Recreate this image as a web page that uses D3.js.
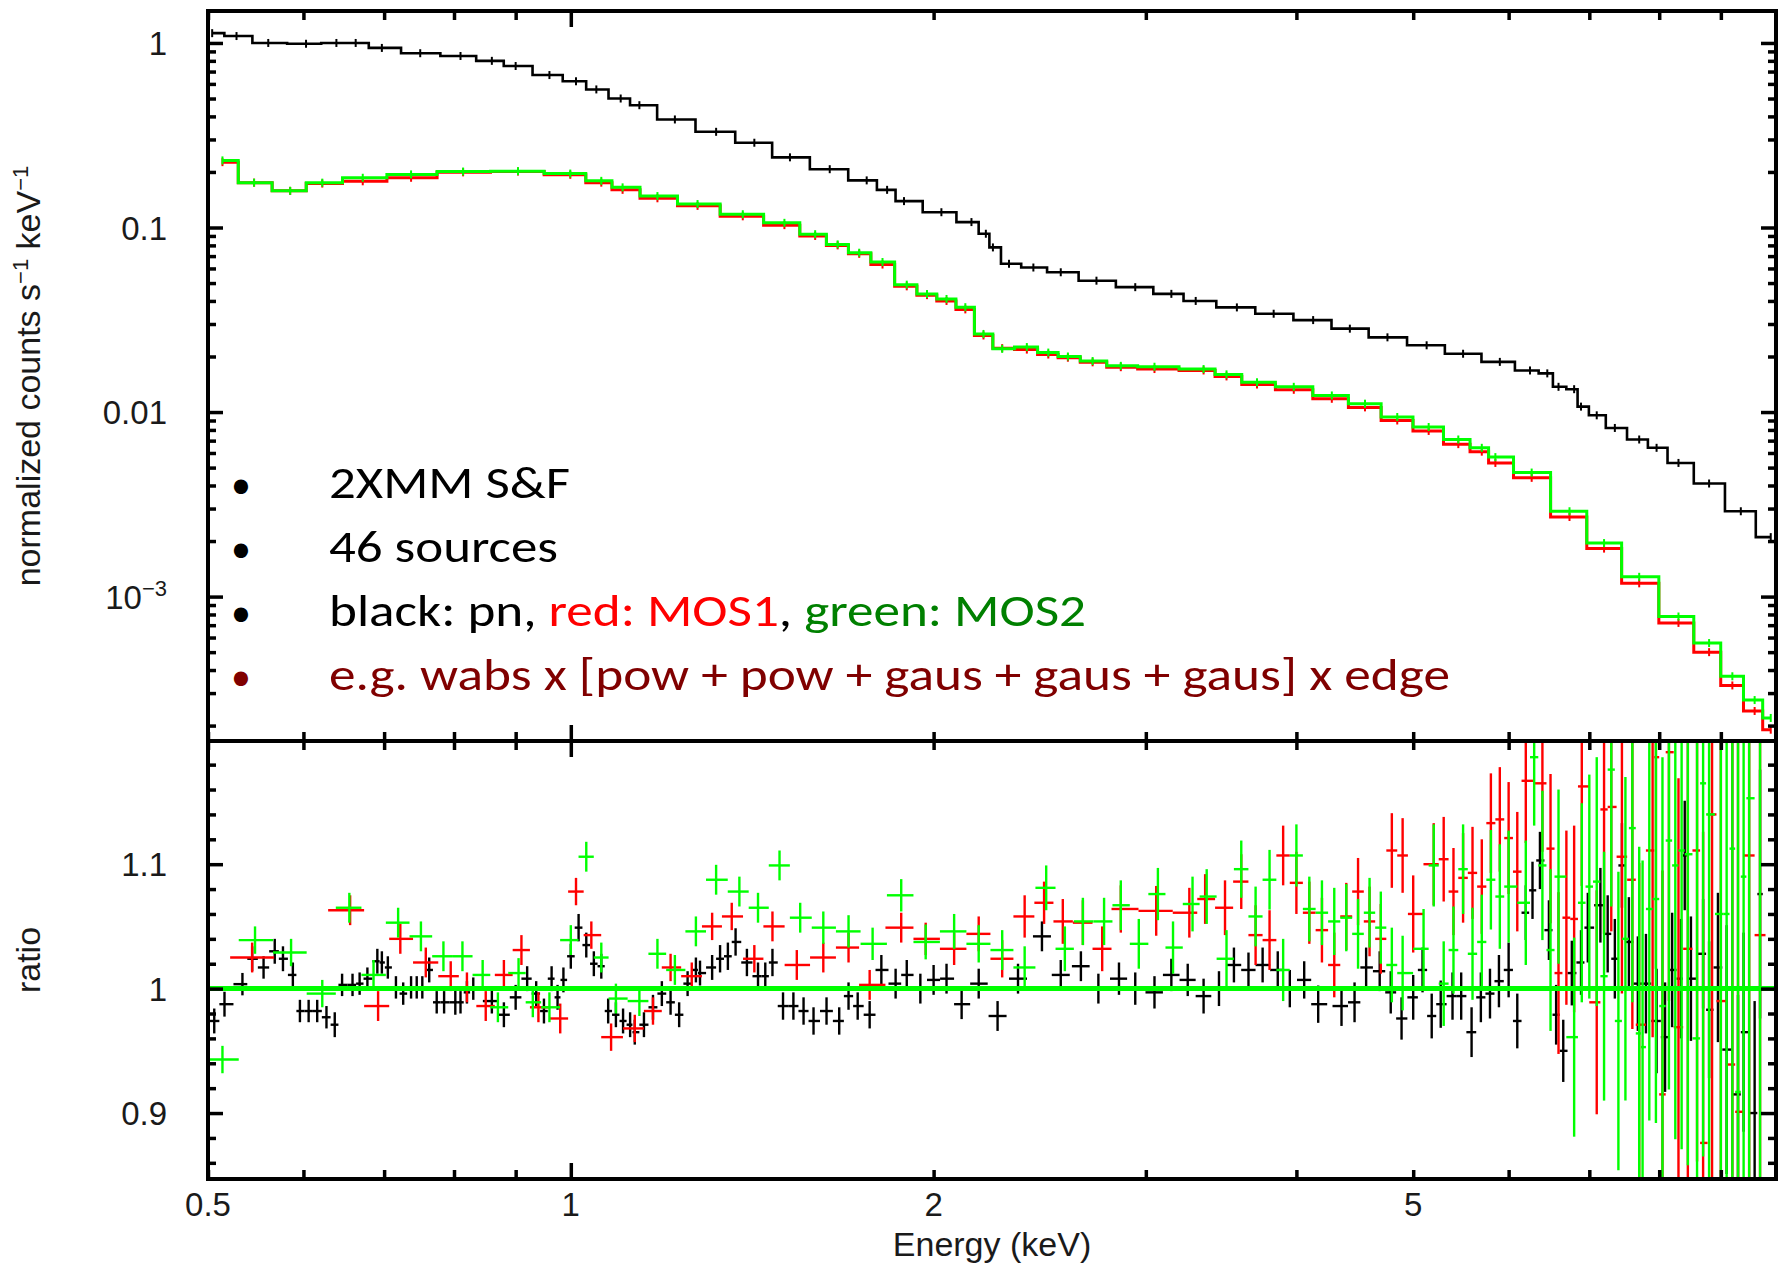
<!DOCTYPE html>
<html>
<head>
<meta charset="utf-8">
<script src="https://cdn.jsdelivr.net/npm/d3@7"></script>
<style>
  body { margin: 0; background: #fff; }
  svg { display: block; }
</style>
</head>
<body>
<svg id="chart"></svg>
<script>
// ---- data ----
// upper panel: normalized counts (model/data step), energies in keV
const pnEnergy = [0.504,0.528,0.561,0.603,0.639,0.663,0.697,0.75,0.81,0.86,
  0.90,0.96,1.01,1.05,1.10,1.14,1.22,1.32,1.42,1.52,
  1.64,1.76,1.83,1.89,2.03,2.15,2.21,2.24,2.31,2.42,
  2.55,2.73,2.94,3.15,3.3,3.57,3.83,4.13,4.43,4.76,
  5.13,5.5,5.9,6.25,6.46,6.6,6.8,6.89,7.1,7.35,
  7.7,7.96,8.3,8.8,9.35,9.9];
const pnCounts = [1.13,1.09,1.0,0.99,1.0,1.0,0.94,0.88,0.85,0.80,
  0.75,0.67,0.62,0.56,0.50,0.46,0.385,0.33,0.288,0.24,
  0.207,0.18,0.16,0.139,0.121,0.107,0.0925,0.078,0.0636,0.0607,
  0.0572,0.0515,0.0475,0.0437,0.0400,0.0369,0.0341,0.0315,0.0283,0.0254,
  0.0230,0.0207,0.0187,0.0168,0.0162,0.0137,0.0133,0.0107,0.0096,0.0082,
  0.0071,0.0064,0.0053,0.0041,0.0029,0.0021];

const mosEnergy = [0.514,0.546,0.585,0.622,0.672,0.737,0.814,0.904,0.999,1.06,
  1.104,1.18,1.274,1.389,1.504,1.595,1.665,1.735,1.814,1.9,
  1.975,2.05,2.125,2.2,2.28,2.39,2.49,2.585,2.71,2.86,
  3.05,3.35,3.5,3.71,3.98,4.28,4.56,4.85,5.15,5.45,
  5.7,5.85,6.27,6.74,7.2,7.7,8.3,8.8,9.2,9.6,9.9];
const mos1Counts = [0.226,0.175,0.158,0.173,0.178,0.186,0.199,0.201,0.193,0.175,
  0.160,0.144,0.131,0.115,0.103,0.090,0.080,0.072,0.063,0.048,
  0.0430,0.040,0.036,0.026,0.0222,0.0218,0.0205,0.0197,0.0186,0.0175,
  0.0171,0.0168,0.0156,0.0141,0.0132,0.0118,0.0106,0.0090,0.0079,0.0067,
  0.0061,0.0053,0.0044,0.0027,0.00182,0.00118,0.00072,0.00050,0.00033,0.00024,0.00019];
const mos2Counts = [0.231,0.175,0.158,0.175,0.186,0.194,0.201,0.202,0.196,0.179,
  0.165,0.148,0.134,0.118,0.106,0.092,0.081,0.073,0.065,0.049,
  0.0436,0.041,0.037,0.0265,0.022,0.0225,0.021,0.020,0.0189,0.0178,
  0.0176,0.0171,0.0160,0.0145,0.0137,0.0123,0.0111,0.0094,0.0083,0.0071,
  0.0064,0.0057,0.0047,0.0029,0.00195,0.00128,0.00078,0.00056,0.00037,0.000275,0.00022];

// lower panel: data/model ratio with 1-sigma errors
const pnRatioEnergy = [0.506,0.516,0.534,0.544,0.556,0.568,0.577,0.588,0.596,0.606,
  0.616,0.627,0.637,0.646,0.659,0.668,0.678,0.691,0.697,0.705,
  0.716,0.726,0.737,0.745,0.753,0.763,0.774,0.785,0.802,0.81,
  0.82,0.83,0.86,0.88,0.90,0.92,0.936,0.95,0.964,0.975,
  0.986,1.0,1.015,1.03,1.045,1.06,1.074,1.09,1.105,1.12,
  1.13,1.15,1.17,1.19,1.21,1.23,1.25,1.27,1.28,1.31,
  1.33,1.35,1.37,1.40,1.43,1.45,1.47,1.50,1.53,1.56,
  1.59,1.63,1.67,1.70,1.73,1.77,1.81,1.86,1.90,1.95,
  2.00,2.05,2.11,2.18,2.26,2.35,2.46,2.55,2.65,2.74,
  2.85,2.94,3.05,3.15,3.25,3.35,3.45,3.55,3.65,3.75,
  3.86,3.95,4.06,4.17,4.36,4.47,4.57,4.69,4.79,4.89,
  5.00,5.09,5.18,5.27,5.39,5.48,5.59,5.69,5.79,5.89,
  6.00,6.10,6.20,6.28,6.37,6.48,6.57,6.66,6.77,6.89,
  6.98,7.15,7.25,7.35,7.45,7.55,7.68,7.80,7.96,8.09,
  8.20,8.34,8.40,8.50,8.70,8.80,8.95,9.10,9.30,9.40,
  9.60,9.70];
const pnRatio = [0.974,0.9875,1.0036,1.024,1.017,1.030,1.024,1.011,0.982,0.982,
  0.982,0.977,0.971,1.003,1.003,1.004,1.008,1.022,1.021,1.017,
  1.001,0.996,1.001,1.001,1.001,1.015,0.989,0.989,0.989,0.989,
  0.997,1.0,0.990,0.979,0.993,1.008,0.996,0.982,1.008,0.993,
  1.007,1.026,1.049,1.035,1.02,1.018,0.982,0.979,0.974,0.971,
  0.965,0.971,0.985,0.996,0.989,0.979,1.004,1.015,1.0125,1.017,
  1.024,1.026,1.0375,1.021,1.010,1.010,1.021,0.986,0.986,0.982,
  0.974,0.982,0.974,0.994,0.986,0.979,1.015,1.004,1.011,1.0,
  1.007,1.008,0.9875,1.004,0.978,1.008,1.042,1.011,1.018,1.0,
  1.008,1.0,0.997,1.011,1.007,0.994,1.0,1.019,1.015,1.019,
  1.015,1.0,1.007,0.9875,0.986,0.989,1.017,1.014,0.997,0.976,
  0.993,1.015,0.978,0.9875,0.994,0.994,0.965,0.993,0.996,1.006,
  1.015,0.974,1.061,1.079,1.103,1.047,0.979,0.95,1.0125,1.021,
  1.049,1.067,1.044,1.024,1.099,1.0375,1.004,1.004,0.974,0.961,
  1.015,1.008,1.107,1.008,1.028,0.983,1.017,0.951,0.915,0.965,
  0.9,1.076];
const pnRatioErr = [.010,.010,.009,.010,.009,.010,.010,.010,.009,.009,
  .009,.009,.010,.009,.009,.009,.009,.010,.009,.009,
  .009,.009,.009,.009,.009,.010,.009,.009,.010,.009,
  .009,.009,.010,.010,.010,.010,.010,.010,.010,.010,
  .010,.010,.011,.010,.010,.010,.010,.010,.010,.010,
  .010,.010,.010,.010,.010,.010,.010,.010,.010,.010,
  .011,.011,.011,.011,.011,.011,.011,.011,.011,.011,
  .011,.011,.011,.011,.011,.011,.012,.012,.012,.012,
  .012,.012,.012,.012,.012,.012,.012,.012,.012,.012,
  .013,.013,.013,.013,.013,.014,.014,.014,.014,.014,
  .015,.015,.015,.015,.016,.016,.016,.016,.017,.017,
  .018,.018,.018,.019,.019,.019,.020,.020,.020,.021,
  .022,.022,.022,.023,.023,.024,.024,.025,.026,.026,
  .028,.030,.031,.032,.034,.036,.038,.040,.042,.044,
  .046,.048,.044,.050,.044,.055,.060,.100,.080,.080,
  .090,.100];

const mos1RatioEnergy = [0.544,0.656,0.692,0.722,0.758,0.795,0.82,0.85,0.88,0.91,
  0.94,0.98,1.01,1.04,1.08,1.13,1.17,1.21,1.26,1.31,
  1.36,1.42,1.47,1.54,1.62,1.70,1.77,1.88,1.97,2.08,
  2.18,2.28,2.38,2.47,2.56,2.66,2.76,2.86,3.06,3.26,
  3.36,3.49,3.6,3.7,3.8,3.9,4.0,4.1,4.2,4.3,
  4.4,4.5,4.6,4.7,4.8,4.9,5.0,5.2,5.3,5.4,
  5.5,5.6,5.7,5.8,5.9,6.0,6.1,6.2,6.4,6.5,
  6.6,6.7,6.8,6.9,7.1,7.2,7.3,7.45,7.6,7.7,
  7.9,7.95,8.05,8.15,8.3,8.45,8.6,8.7,8.85,9.0,
  9.2,9.3,9.5,9.7];
const mos1Ratio = [1.025,1.063,0.986,1.040,1.021,1.010,1.001,0.986,1.011,1.031,
  0.985,0.976,1.078,1.043,0.961,0.968,0.982,1.017,1.010,1.050,
  1.058,1.024,1.050,1.019,1.025,1.033,1.003,1.049,1.040,1.032,
  1.044,1.024,1.058,1.069,1.054,1.053,1.032,1.064,1.0625,1.061,
  1.072,1.065,1.086,1.043,1.039,1.107,1.085,1.061,1.047,1.019,
  1.058,1.078,1.054,1.040,1.111,1.107,1.060,1.100,1.104,1.078,
  1.089,1.093,1.082,1.133,1.136,1.121,1.094,1.167,1.165,1.1125,
  1.0125,1.057,1.056,1.1625,0.989,1.144,1.146,1.106,1.0875,0.971,
  1.111,1.186,0.915,1.19,0.969,1.032,1.111,0.876,1.140,0.99,
  0.939,0.901,1.107,1.043];
const mos1RatioErr = [.012,.012,.012,.012,.012,.012,.012,.012,.012,.012,
  .012,.012,.011,.011,.011,.011,.011,.011,.011,.011,
  .011,.011,.012,.012,.012,.012,.012,.012,.013,.013,
  .014,.015,.017,.017,.018,.018,.018,.019,.020,.020,
  .020,.022,.022,.024,.024,.024,.025,.025,.026,.026,
  .027,.027,.028,.028,.030,.030,.031,.033,.034,.035,
  .036,.037,.038,.040,.042,.045,.048,.050,.055,.060,
  .065,.070,.075,.080,.090,.100,.100,.110,.120,.130,
  .150,.170,.180,.200,.200,.220,.250,.250,.300,.300,
  .300,.300,.350,.400];

const mos2RatioEnergy = [0.514,0.547,0.586,0.622,0.655,0.686,0.719,0.751,0.784,0.813,
  0.845,0.87,0.905,0.93,0.96,1.0,1.03,1.06,1.09,1.14,
  1.18,1.22,1.27,1.32,1.38,1.43,1.49,1.55,1.62,1.70,
  1.78,1.88,1.97,2.08,2.18,2.28,2.38,2.48,2.57,2.66,
  2.77,2.86,2.96,3.07,3.16,3.28,3.37,3.5,3.6,3.7,
  3.8,3.9,4.0,4.1,4.2,4.3,4.4,4.5,4.6,4.7,
  4.8,4.9,5.1,5.2,5.3,5.4,5.5,5.6,5.7,5.8,
  5.9,6.0,6.2,6.3,6.4,6.5,6.6,6.8,6.9,7.0,
  7.1,7.2,7.3,7.4,7.5,7.6,7.7,7.75,7.85,7.95,
  8.05,8.15,8.25,8.35,8.45,8.6,8.7,8.8,9.0,9.1,
  9.2,9.3,9.4,9.5,9.7];
const mos2Ratio = [0.943,1.039,1.029,0.996,1.065,1.011,1.053,1.042,1.026,1.026,
  1.011,0.985,1.0125,0.989,0.985,1.039,1.106,1.025,0.992,0.990,
  1.028,1.015,1.046,1.0875,1.078,1.065,1.099,1.057,1.049,1.046,
  1.036,1.075,1.0375,1.046,1.036,1.031,1.017,1.081,1.032,1.054,
  1.054,1.067,1.036,1.076,1.033,1.068,1.074,1.024,1.096,1.058,
  1.0875,1.015,1.107,1.064,1.061,1.054,1.057,1.044,1.061,1.049,
  1.019,1.0125,1.032,1.099,1.004,1.031,1.096,1.028,1.0375,1.0875,
  1.074,1.082,1.069,1.186,1.099,1.031,1.090,0.961,1.069,1.082,
  1.086,1.01,1.176,0.974,1.040,1.129,0.964,0.953,1.064,1.072,
  0.986,1.119,1.099,1.111,1.108,0.96,1.165,1.14,1.06,1.06,
  1.1125,0.917,1.09,1.153,1.22];
const mos2RatioErr = [.011,.011,.011,.011,.012,.012,.012,.012,.012,.012,
  .012,.012,.012,.012,.012,.012,.012,.012,.012,.012,
  .012,.012,.012,.012,.012,.012,.012,.012,.013,.013,
  .013,.013,.014,.014,.015,.016,.017,.018,.018,.019,
  .019,.020,.020,.021,.021,.022,.022,.023,.023,.024,
  .024,.025,.025,.026,.026,.027,.027,.028,.028,.029,
  .030,.030,.032,.033,.034,.035,.036,.037,.038,.040,
  .042,.045,.050,.055,.060,.065,.070,.080,.080,.090,
  .100,.100,.110,.120,.130,.140,.150,.150,.170,.180,
  .200,.200,.220,.240,.250,.270,.300,.300,.320,.330,
  .350,.350,.380,.400,.450];

// tick labels
const xLabels = [0.5, 1, 2, 5];
const countLabels = [1, 0.1, 0.01, 0.001];
const ratioLabels = [0.9, 1, 1.1];

// legend text
const notes = [
  [{ text: "2XMM S&F", color: "#000000" }],
  [{ text: "46 sources", color: "#000000" }],
  [{ text: "black: pn, ", color: "#000000" }, { text: "red: MOS1", color: "#ff0000" },
   { text: ", ", color: "#000000" }, { text: "green: MOS2", color: "#008000" }],
  [{ text: "e.g. wabs x [pow + pow + gaus + gaus + gaus] x edge", color: "#800000" }]
];
const noteBullets = ["#000000", "#000000", "#000000", "#800000"];

// ---- layout ----
const width = 1785, height = 1264;
const frame = { left: 208, right: 1776, top: 11, split: 741, bottom: 1179 };
const tickFont = "'Liberation Sans', Arial, Helvetica, sans-serif";
const tickCol = "#1a1a1a";
const tickSize = 33, titleSize = 34;

const svg = d3.select("#chart")
  .attr("width", width)
  .attr("height", height)
  .attr("viewBox", [0, 0, width, height])
  .style("background-color", "white");

// Scales
let x = d3.scaleLog().domain([0.5, 10]).range([frame.left, frame.right]);
let yTop = d3.scaleLog().domain([1.65e-4, 1.49]).range([frame.split, frame.top]);
let yRatio = d3.scaleLinear().domain([0.847, 1.199]).range([frame.bottom, frame.split]);

// clip paths
const defs = svg.append("defs");
defs.append("clipPath").attr("id", "clipTop").append("rect")
  .attr("x", frame.left).attr("y", frame.top)
  .attr("width", frame.right - frame.left).attr("height", frame.split - frame.top);
defs.append("clipPath").attr("id", "clipBot").append("rect")
  .attr("x", frame.left).attr("y", frame.split)
  .attr("width", frame.right - frame.left).attr("height", frame.bottom - frame.split);

// ---- upper panel: spectra ----
let upper = svg.append("g").attr("clip-path", "url(#clipTop)");

function drawSpectrum(energy, counts, color, lw) {
  let pts = energy.map((e, i) => [e, counts[i]]);
  let line = d3.line()
    .x(d => x(d[0]))
    .y(d => yTop(d[1]))
    .curve(d3.curveStep);
  upper.append("path")
    .datum(pts)
    .attr("d", line)
    .attr("fill", "none")
    .attr("stroke", color)
    .attr("stroke-width", lw);
  // little error ticks at each bin
  upper.append("g").selectAll("line")
    .data(pts)
    .join("line")
    .attr("x1", d => x(d[0])).attr("x2", d => x(d[0]))
    .attr("y1", d => yTop(d[1]) - 4).attr("y2", d => yTop(d[1]) + 4)
    .attr("stroke", color)
    .attr("stroke-width", 2);
}

drawSpectrum(pnEnergy, pnCounts, "#000000", 2.6);
drawSpectrum(mosEnergy, mos1Counts, "#ff0000", 3);
drawSpectrum(mosEnergy, mos2Counts, "#00ff00", 3);

// ---- lower panel: ratio crosses ----
let lower = svg.append("g").attr("clip-path", "url(#clipBot)");

function drawCrosses(energy, ratio, err, color, cap) {
  let px = energy.map(e => x(e));
  let pts = energy.map((e, i) => {
    let left = i > 0 ? (px[i - 1] + px[i]) / 2 : px[i] - (px[i + 1] - px[i]) / 2;
    let right = i < px.length - 1 ? (px[i] + px[i + 1]) / 2 : px[i] + (px[i] - px[i - 1]) / 2;
    return {
      cx: px[i],
      x0: Math.max(left, px[i] - cap),
      x1: Math.min(right, px[i] + cap),
      r: ratio[i],
      e: err[i]
    };
  });
  let g = lower.append("g").attr("stroke", color).attr("stroke-width", 2.4);
  g.selectAll("line.h")
    .data(pts)
    .join("line")
    .attr("class", "h")
    .attr("x1", d => d.x0).attr("x2", d => d.x1)
    .attr("y1", d => yRatio(d.r)).attr("y2", d => yRatio(d.r));
  g.selectAll("line.v")
    .data(pts)
    .join("line")
    .attr("class", "v")
    .attr("x1", d => d.cx).attr("x2", d => d.cx)
    .attr("y1", d => yRatio(d.r - d.e)).attr("y2", d => yRatio(d.r + d.e));
}

drawCrosses(pnRatioEnergy, pnRatio, pnRatioErr, "#000000", 9);
drawCrosses(mos1RatioEnergy, mos1Ratio, mos1RatioErr, "#ff0000", 22);
drawCrosses(mos2RatioEnergy, mos2Ratio, mos2RatioErr, "#00ff00", 22);

// model ratio = 1
lower.append("line")
  .attr("x1", frame.left).attr("x2", frame.right)
  .attr("y1", yRatio(1)).attr("y2", yRatio(1))
  .attr("stroke", "#00ff00")
  .attr("stroke-width", 5);

// ---- axes ----
function styleAxis(g, w) {
  g.select(".domain").remove();
  g.selectAll(".tick line").attr("stroke", "#000").attr("stroke-width", w);
}
const isDecade = v => Math.abs(Math.log10(v) - Math.round(Math.log10(v))) < 1e-6;

const xMinor = x.ticks().filter(v => !isDecade(v));
const xMajor = [1];

function xTicks(axisFn, y) {
  svg.append("g").attr("transform", `translate(0,${y})`)
    .call(axisFn(x).tickValues(xMinor).tickSize(-9).tickFormat(""))
    .call(g => styleAxis(g, 3.5));
  svg.append("g").attr("transform", `translate(0,${y})`)
    .call(axisFn(x).tickValues(xMajor).tickSize(-16).tickFormat(""))
    .call(g => styleAxis(g, 3.5));
}
xTicks(d3.axisTop, frame.top);
xTicks(d3.axisBottom, frame.split);
xTicks(d3.axisTop, frame.split);
xTicks(d3.axisBottom, frame.bottom);

const yMinor = yTop.ticks().filter(v => !isDecade(v));
const yMajor = yTop.ticks().filter(isDecade);
const rMinor = yRatio.ticks(20).filter(v => !ratioLabels.some(r => Math.abs(r - v) < 1e-6));
[[d3.axisLeft, frame.left], [d3.axisRight, frame.right]].forEach(([fn, xp]) => {
  svg.append("g").attr("transform", `translate(${xp},0)`)
    .call(fn(yTop).tickValues(yMinor).tickSize(-8).tickFormat(""))
    .call(g => styleAxis(g, 3.5));
  svg.append("g").attr("transform", `translate(${xp},0)`)
    .call(fn(yTop).tickValues(yMajor).tickSize(-15).tickFormat(""))
    .call(g => styleAxis(g, 3.5));
  svg.append("g").attr("transform", `translate(${xp},0)`)
    .call(fn(yRatio).tickValues(rMinor).tickSize(-8).tickFormat(""))
    .call(g => styleAxis(g, 3.5));
  svg.append("g").attr("transform", `translate(${xp},0)`)
    .call(fn(yRatio).tickValues(ratioLabels).tickSize(-15).tickFormat(""))
    .call(g => styleAxis(g, 3.5));
});

// frames
[[frame.top, frame.split], [frame.split, frame.bottom]].forEach(([t, b]) => {
  svg.append("rect")
    .attr("x", frame.left).attr("y", t)
    .attr("width", frame.right - frame.left).attr("height", b - t)
    .attr("fill", "none")
    .attr("stroke", "#000")
    .attr("stroke-width", 4);
});

// ---- tick labels ----
svg.append("g")
  .selectAll("text")
  .data(xLabels)
  .join("text")
  .attr("x", d => x(d))
  .attr("y", frame.bottom + 37)
  .attr("text-anchor", "middle")
  .style("font-family", tickFont)
  .style("font-size", tickSize + "px")
  .style("fill", tickCol)
  .text(d => d);

let cl = svg.append("g")
  .selectAll("text")
  .data(countLabels)
  .join("text")
  .attr("x", frame.left - 41)
  .attr("y", d => yTop(d) + 12)
  .attr("text-anchor", "end")
  .style("font-family", tickFont)
  .style("font-size", tickSize + "px")
  .style("fill", tickCol);
cl.filter(d => d >= 0.01).text(d => d);
cl.filter(d => d < 0.01).each(function (d) {
  let t = d3.select(this);
  t.append("tspan").text("10");
  t.append("tspan").attr("dy", -13).style("font-size", "22px").text("\u2212" + Math.round(-Math.log10(d)));
});

svg.append("g")
  .selectAll("text")
  .data(ratioLabels)
  .join("text")
  .attr("x", frame.left - 41)
  .attr("y", d => yRatio(d) + 12)
  .attr("text-anchor", "end")
  .style("font-family", tickFont)
  .style("font-size", tickSize + "px")
  .style("fill", tickCol)
  .text(d => d);

// ---- axis titles ----
svg.append("text")
  .attr("x", (frame.left + frame.right) / 2)
  .attr("y", 1256)
  .attr("text-anchor", "middle")
  .style("font-family", tickFont)
  .style("font-size", titleSize + "px")
  .style("fill", tickCol)
  .text("Energy (keV)");

let yt = svg.append("text")
  .attr("transform", `translate(40,${(frame.top + frame.split) / 2}) rotate(-90)`)
  .attr("text-anchor", "middle")
  .style("font-family", tickFont)
  .style("font-size", titleSize + "px")
  .style("fill", tickCol);
yt.append("tspan").text("normalized counts s");
yt.append("tspan").attr("dy", -12).style("font-size", "22px").text("\u22121");
yt.append("tspan").attr("dy", 12).text(" keV");
yt.append("tspan").attr("dy", -12).style("font-size", "22px").text("\u22121");

svg.append("text")
  .attr("transform", `translate(40,${(frame.split + frame.bottom) / 2}) rotate(-90)`)
  .attr("text-anchor", "middle")
  .style("font-family", tickFont)
  .style("font-size", titleSize + "px")
  .style("fill", tickCol)
  .text("ratio");

// ---- bullet notes ----
const noteFont = "Carlito, Calibri, 'Open Sans', 'Noto Sans', sans-serif";
const noteBase = 498, noteStep = 64, noteLeft = 329;
const noteWidths = [241, 229, 757, 1121];

notes.forEach((parts, i) => {
  svg.append("text")
    .attr("x", 241)
    .attr("y", noteBase + i * noteStep)
    .attr("text-anchor", "middle")
    .style("font-family", noteFont)
    .style("font-size", "40px")
    .style("fill", noteBullets[i])
    .text("\u2022");
  let t = svg.append("text")
    .attr("x", noteLeft)
    .attr("y", noteBase + i * noteStep)
    .attr("textLength", noteWidths[i])
    .attr("lengthAdjust", "spacingAndGlyphs")
    .style("font-family", noteFont)
    .style("font-size", "46px");
  t.selectAll("tspan")
    .data(parts)
    .join("tspan")
    .style("fill", d => d.color)
    .attr("xml:space", "preserve")
    .text(d => d.text);
});
</script>
</body>
</html>
